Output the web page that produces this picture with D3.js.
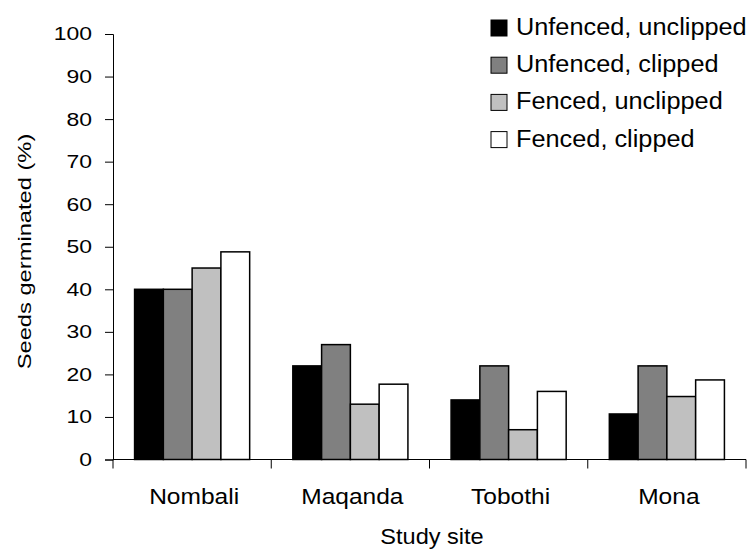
<!DOCTYPE html>
<html>
<head>
<meta charset="utf-8">
<script src="https://cdn.jsdelivr.net/npm/d3@7"></script>
<style>
  html, body { margin: 0; padding: 0; background: #fff; }
  svg { display: block; font-family: Arial, "Liberation Sans", sans-serif; }
</style>
</head>
<body>
<svg id="chart" width="749" height="551"></svg>
<script>
const sites = ["Nombali", "Maqanda", "Tobothi", "Mona"];
const seriesNames = ["Unfenced, unclipped", "Unfenced, clipped", "Fenced, unclipped", "Fenced, clipped"];
const seriesColors = ["#000000", "#808080", "#c0c0c0", "#ffffff"];
const unfencedUnclipped = [40, 22, 14, 10.7];
const unfencedClipped = [40, 27, 22, 22];
const fencedUnclipped = [45, 13, 7, 14.8];
const fencedClipped = [48.8, 17.7, 16, 18.7];
const yTicks = [0, 10, 20, 30, 40, 50, 60, 70, 80, 90, 100];

const seriesValues = [unfencedUnclipped, unfencedClipped, fencedUnclipped, fencedClipped];

// horizontally widen text glyphs (the reference text is slightly stretched)
function stretch(sel, f) {
  sel.each(function () {
    const w = this.getComputedTextLength();
    d3.select(this).attr("textLength", w * f).attr("lengthAdjust", "spacingAndGlyphs");
  });
}

const svg = d3.select("#chart");
const plotLeft = 113, plotRight = 746, plotTop = 34, plotBottom = 459.5;

const x = d3.scaleBand().domain(sites).range([plotLeft, plotRight]).paddingInner(0).paddingOuter(0);
const xi = d3.scaleBand().domain(seriesNames).range([0, x.bandwidth()]).paddingInner(0).paddingOuter(0.75);
const y = d3.scaleLinear().domain([0, 100]).range([plotBottom, plotTop]);

// Bars
const groups = svg.append("g").selectAll("g").data(sites).join("g")
  .attr("transform", d => `translate(${x(d)},0)`);
groups.selectAll("rect")
  .data((d, i) => seriesNames.map((s, k) => ({ s, k, v: seriesValues[k][i] })))
  .join("rect")
  .attr("x", d => xi(d.s))
  .attr("y", d => y(d.v))
  .attr("width", xi.bandwidth())
  .attr("height", d => y(0) - y(d.v))
  .attr("fill", d => seriesColors[d.k])
  .attr("stroke", "#000")
  .attr("stroke-width", 1.5);

// Y axis
const yAxis = svg.append("g").attr("transform", `translate(${plotLeft},0)`)
  .call(d3.axisLeft(y).tickValues(yTicks).tickSize(8).tickPadding(13).tickFormat(d3.format("d")));
yAxis.select(".domain").attr("stroke", "#000").attr("stroke-width", 1);
yAxis.selectAll(".tick line").attr("stroke", "#000");
yAxis.selectAll("text").attr("font-size", 18.5).attr("fill", "#000")
  .attr("font-family", "Arial, 'Liberation Sans', sans-serif");
stretch(yAxis.selectAll("text"), 1.24);

// X axis with ticks at band boundaries
const xAxis = svg.append("g").attr("transform", `translate(0,${plotBottom})`);
xAxis.append("line").attr("x1", plotLeft).attr("x2", plotRight).attr("y1", 0).attr("y2", 0).attr("stroke", "#000");
const boundaries = sites.map(s => x(s)).concat([x(sites[sites.length - 1]) + x.bandwidth()]);
xAxis.selectAll("line.tk").data(boundaries).join("line").attr("class", "tk")
  .attr("x1", d => d).attr("x2", d => d).attr("y1", 0).attr("y2", 9).attr("stroke", "#000");
const xLabels = xAxis.selectAll("text").data(sites).join("text")
  .attr("x", d => x(d) + x.bandwidth() / 2 + 2)
  .attr("y", 44)
  .attr("text-anchor", "middle")
  .attr("font-size", 22.5)
  .attr("fill", "#000")
  .text(d => d);
stretch(xLabels, 1.09);

// Axis titles
const xTitle = svg.append("text")
  .attr("x", 432)
  .attr("y", 544)
  .attr("text-anchor", "middle")
  .attr("font-size", 22)
  .text("Study site");
stretch(xTitle, 1.07);

const yTitle = svg.append("text")
  .attr("transform", `translate(31,251.5) rotate(-90)`)
  .attr("text-anchor", "middle")
  .attr("font-size", 18.5)
  .text("Seeds germinated (%)");
stretch(yTitle, 1.28);

// Legend
const legend = svg.append("g");
const legendRows = legend.selectAll("g").data(seriesNames).join("g")
  .attr("transform", (d, i) => `translate(491,${35 + i * 37.2})`);
legendRows.append("rect")
  .attr("x", 0).attr("y", -15).attr("width", 16).attr("height", 16)
  .attr("fill", (d, i) => seriesColors[i])
  .attr("stroke", "#000").attr("stroke-width", 1);
const legendText = legendRows.append("text")
  .attr("x", 25).attr("y", 0)
  .attr("font-size", 23)
  .text(d => d);
stretch(legendText, 1.1);
</script>
</body>
</html>
